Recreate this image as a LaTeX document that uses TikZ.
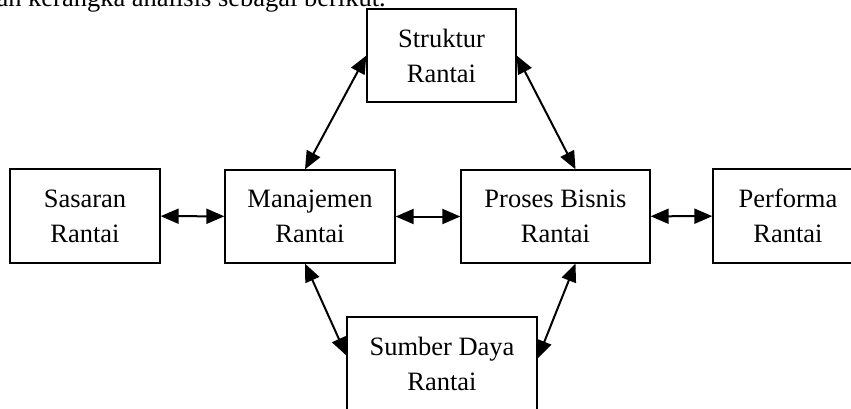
\documentclass[tikz,border=0pt]{standalone}
\usepackage{fontspec}
\setmainfont{Liberation Serif}
\usetikzlibrary{arrows.meta}
\tikzset{
    kotak/.style={draw, line width=1.3pt, inner sep=0pt, align=center,
        font=\fontsize{26.5}{35}\selectfont},
    panah/.style={{Triangle[length=18pt,width=15pt]}-{Triangle[length=18pt,width=15pt]},
        line width=2pt}
}
\begin{document}
\begin{tikzpicture}[x=1pt,y=-1pt]
    \useasboundingbox (0,0) rectangle (851,409);
    \clip (0,0) rectangle (851,409);
    \node[anchor=base east, inner sep=0pt, font=\fontsize{26.5}{35}\selectfont] (judul) at (386,7)
        {an kerangka analisis sebagai berikut.};
    % kotak-kotak
    \node[kotak, minimum width=149, minimum height=93] (str) at (441.5,55.5) {Struktur\\Rantai};
    \node[kotak, minimum width=150, minimum height=94] (sas) at (85,216) {Sasaran\\Rantai};
    \node[kotak, minimum width=170, minimum height=93] (man) at (310,216.5) {Manajemen\\Rantai};
    \node[kotak, minimum width=189, minimum height=93] (pro) at (555.5,216.5) {Proses Bisnis\\Rantai};
    \node[kotak, minimum width=150, minimum height=94] (per) at (788,216) {Performa\\Rantai};
    \node[kotak, minimum width=190, minimum height=93] (sum) at (442,363.5) {Sumber Daya\\Rantai};
    % panah
    \draw[panah] (sas) -- (man);
    \draw[panah] (man) -- (pro);
    \draw[panah] (pro) -- (per);
    \draw[panah] ([xshift=-5pt]man.north) -- (str.west);
    \draw[panah] (str.east) -- ([xshift=20pt]pro.north);
    \draw[panah] ([xshift=-5pt]man.south) -- ([yshift=8pt]sum.west);
    \draw[panah] ([xshift=20pt]pro.south) -- ([yshift=5pt]sum.east);
\end{tikzpicture}
\end{document}
